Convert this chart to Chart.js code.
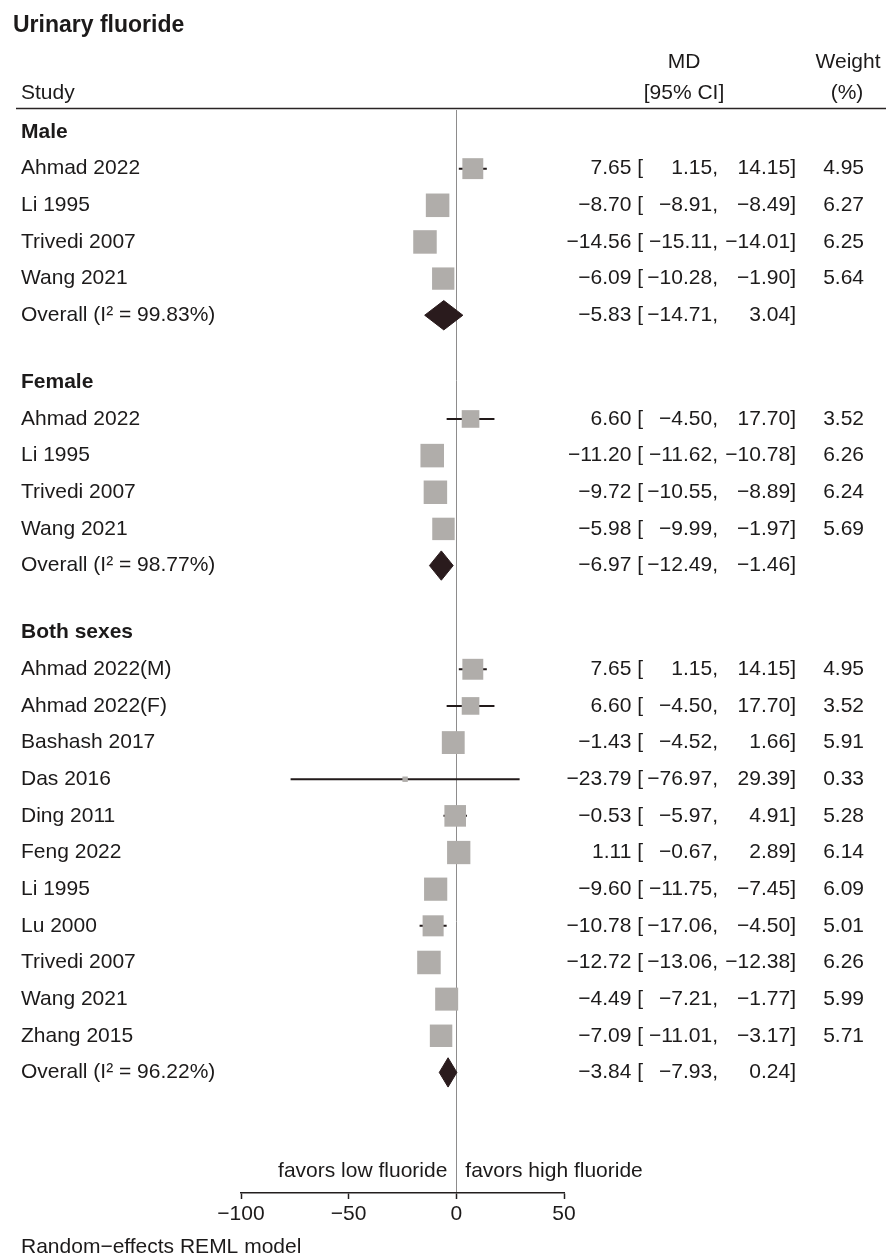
<!DOCTYPE html>
<html>
<head>
<meta charset="utf-8">
<script src="https://cdn.jsdelivr.net/npm/chart.js@4/dist/chart.umd.min.js"></script>
<style>
  html, body { margin: 0; padding: 0; background: #ffffff; }
  canvas { display: block; }
</style>
</head>
<body>
<canvas id="forest" width="886" height="1260"></canvas>
<script>
// Urinary fluoride: mean differences (MD) with 95% CI and random-effects weights
const maleStudies = ['Ahmad 2022', 'Li 1995', 'Trivedi 2007', 'Wang 2021'];
const maleMD      = [7.65, -8.70, -14.56, -6.09];
const maleLo      = [1.15, -8.91, -15.11, -10.28];
const maleHi      = [14.15, -8.49, -14.01, -1.90];
const maleWeight  = [4.95, 6.27, 6.25, 5.64];
const maleOverall = [-5.83, -14.71, 3.04];
const maleI2      = 99.83;

const femaleStudies = ['Ahmad 2022', 'Li 1995', 'Trivedi 2007', 'Wang 2021'];
const femaleMD      = [6.60, -11.20, -9.72, -5.98];
const femaleLo      = [-4.50, -11.62, -10.55, -9.99];
const femaleHi      = [17.70, -10.78, -8.89, -1.97];
const femaleWeight  = [3.52, 6.26, 6.24, 5.69];
const femaleOverall = [-6.97, -12.49, -1.46];
const femaleI2      = 98.77;

const bothStudies = ['Ahmad 2022(M)', 'Ahmad 2022(F)', 'Bashash 2017', 'Das 2016', 'Ding 2011',
                     'Feng 2022', 'Li 1995', 'Lu 2000', 'Trivedi 2007', 'Wang 2021', 'Zhang 2015'];
const bothMD      = [7.65, 6.60, -1.43, -23.79, -0.53, 1.11, -9.60, -10.78, -12.72, -4.49, -7.09];
const bothLo      = [1.15, -4.50, -4.52, -76.97, -5.97, -0.67, -11.75, -17.06, -13.06, -7.21, -11.01];
const bothHi      = [14.15, 17.70, 1.66, 29.39, 4.91, 2.89, -7.45, -4.50, -12.38, -1.77, -3.17];
const bothWeight  = [4.95, 3.52, 5.91, 0.33, 5.28, 6.14, 6.09, 5.01, 6.26, 5.99, 5.71];
const bothOverall = [-3.84, -7.93, 0.24];
const bothI2      = 96.22;

const subgroupNames = ['Male', 'Female', 'Both sexes'];
const xTicks = [-100, -50, 0, 50];

// ---- layout constants ----
const FONT = '"Liberation Sans", Arial, Helvetica, sans-serif';
const TEXT = '#1c1a1a';
const GROUP_GAP = 1.83;      // rows between a pooled estimate and the next subgroup heading
const DIAMOND_HALF = 0.4;    // half height of pooled diamonds, in rows
const SQUARE_SCALE = 9.4;    // square side (px) per sqrt(weight)

const groups = [
  { name: subgroupNames[0], studies: maleStudies, md: maleMD, lo: maleLo, hi: maleHi, w: maleWeight, overall: maleOverall, i2: maleI2 },
  { name: subgroupNames[1], studies: femaleStudies, md: femaleMD, lo: femaleLo, hi: femaleHi, w: femaleWeight, overall: femaleOverall, i2: femaleI2 },
  { name: subgroupNames[2], studies: bothStudies, md: bothMD, lo: bothLo, hi: bothHi, w: bothWeight, overall: bothOverall, i2: bothI2 }
];

// Assign each line of the plot a row position on the y scale
const headingRows = [];
const studyRows = [];
const overallRows = [];
let row = 0;
groups.forEach(g => {
  headingRows.push({ row, name: g.name });
  g.studies.forEach((s, i) => {
    studyRows.push({ row: row + 1 + i, label: s, md: g.md[i], lo: g.lo[i], hi: g.hi[i], w: g.w[i] });
  });
  const oRow = row + g.studies.length + 1;
  overallRows.push({ row: oRow, i2: g.i2, md: g.overall[0], lo: g.overall[1], hi: g.overall[2] });
  row = oRow + GROUP_GAP;
});

const minus = s => s.replace(/-/g, '\u2212');
const fmt = v => minus(v.toFixed(2));

// Confidence-interval segments, separated by gaps
const ciData = [];
studyRows.forEach(s => {
  ciData.push({ x: s.lo, y: s.row }, { x: s.hi, y: s.row }, { x: null, y: null });
});

const squareData = studyRows.map(s => ({ x: s.md, y: s.row, w: s.w }));

const diamondSets = overallRows.map(o => ({
  type: 'scatter',
  data: [
    { x: o.lo, y: o.row },
    { x: o.md, y: o.row - DIAMOND_HALF },
    { x: o.hi, y: o.row },
    { x: o.md, y: o.row + DIAMOND_HALF },
    { x: o.lo, y: o.row }
  ],
  showLine: true,
  fill: 'shape',
  tension: 0,
  borderColor: '#2a1b1d',
  backgroundColor: '#2a1b1d',
  borderWidth: 1,
  pointRadius: 0,
  order: 0
}));

const textPlugin = {
  id: 'forestText',
  afterDraw(chart) {
    const ctx = chart.ctx;
    const y = chart.scales.y;
    ctx.save();
    ctx.fillStyle = TEXT;
    ctx.textBaseline = 'middle';

    // title and column headers
    ctx.font = `bold 23px ${FONT}`;
    ctx.textAlign = 'left';
    ctx.fillText('Urinary fluoride', 13, 26);

    ctx.font = `21px ${FONT}`;
    ctx.fillText('Study', 21, 93);
    ctx.textAlign = 'center';
    ctx.fillText('MD', 684, 62);
    ctx.fillText('[95% CI]', 684, 93);
    ctx.fillText('Weight', 848, 62);
    ctx.fillText('(%)', 847, 93);

    ctx.strokeStyle = '#2a2424';
    ctx.lineWidth = 1.5;
    ctx.beginPath();
    ctx.moveTo(16, 108.5);
    ctx.lineTo(886, 108.5);
    ctx.stroke();

    // subgroup headings
    ctx.font = `bold 21px ${FONT}`;
    ctx.textAlign = 'left';
    headingRows.forEach(h => ctx.fillText(h.name, 21, y.getPixelForValue(h.row)));

    // study rows
    ctx.font = `21px ${FONT}`;
    const drawStats = (py, md, lo, hi, w) => {
      ctx.textAlign = 'right';
      ctx.fillText(fmt(md) + ' [', 643, py);
      ctx.fillText(fmt(lo) + ',', 718, py);
      ctx.fillText(fmt(hi) + ']', 796, py);
      if (w !== null) ctx.fillText(w.toFixed(2), 864, py);
    };
    studyRows.forEach(s => {
      const py = y.getPixelForValue(s.row);
      ctx.textAlign = 'left';
      ctx.fillText(s.label, 21, py);
      drawStats(py, s.md, s.lo, s.hi, s.w);
    });
    overallRows.forEach(o => {
      const py = y.getPixelForValue(o.row);
      ctx.textAlign = 'left';
      ctx.fillText(`Overall (I\u00B2 = ${o.i2.toFixed(2)}%)`, 21, py);
      drawStats(py, o.md, o.lo, o.hi, null);
    });

    // direction labels and model note
    const x0 = chart.scales.x.getPixelForValue(0);
    ctx.textAlign = 'right';
    ctx.fillText('favors low fluoride', x0 - 9, 1171);
    ctx.textAlign = 'left';
    ctx.fillText('favors high fluoride', x0 + 9, 1171);
    ctx.fillText('Random\u2212effects REML model', 21, 1247);
    ctx.restore();
  }
};

Chart.defaults.font.family = FONT;
Chart.defaults.color = TEXT;

new Chart(document.getElementById('forest'), {
  type: 'scatter',
  data: {
    datasets: [
      {
        data: squareData,
        pointStyle: 'rect',
        pointRadius: c => (SQUARE_SCALE * Math.sqrt(c.raw.w)) / Math.SQRT2,
        backgroundColor: '#b0adaa',
        borderWidth: 0,
        order: 1
      },
      {
        data: ciData,
        showLine: true,
        spanGaps: false,
        borderColor: '#221a1a',
        borderWidth: 2,
        pointRadius: 0,
        order: 2
      },
      ...diamondSets
    ]
  },
  options: {
    responsive: false,
    animation: false,
    devicePixelRatio: 1,
    events: [],
    layout: { padding: { left: 241, right: 322, top: 110, bottom: 37 } },
    plugins: { legend: { display: false }, tooltip: { enabled: false }, title: { display: false } },
    scales: {
      x: {
        type: 'linear',
        min: -100,
        max: 50,
        position: 'bottom',
        afterBuildTicks: s => { s.ticks = xTicks.map(v => ({ value: v })); },
        afterFit: s => { s.height = 30; },
        ticks: {
          callback: v => minus(String(v)),
          font: { size: 21 },
          color: TEXT,
          padding: 3,
          maxRotation: 0,
          autoSkip: false
        },
        grid: {
          drawOnChartArea: true,
          color: c => (c.tick && c.tick.value === 0 ? '#8e8c8c' : 'rgba(0,0,0,0)'),
          lineWidth: 1,
          tickColor: '#221e1e',
          tickWidth: 1.5,
          tickLength: 6
        },
        border: { display: true, color: '#221e1e', width: 1.5 }
      },
      y: {
        type: 'linear',
        reverse: true,
        min: -0.6,
        max: 28.95,
        display: false
      }
    }
  },
  plugins: [textPlugin]
});
</script>
</body>
</html>
